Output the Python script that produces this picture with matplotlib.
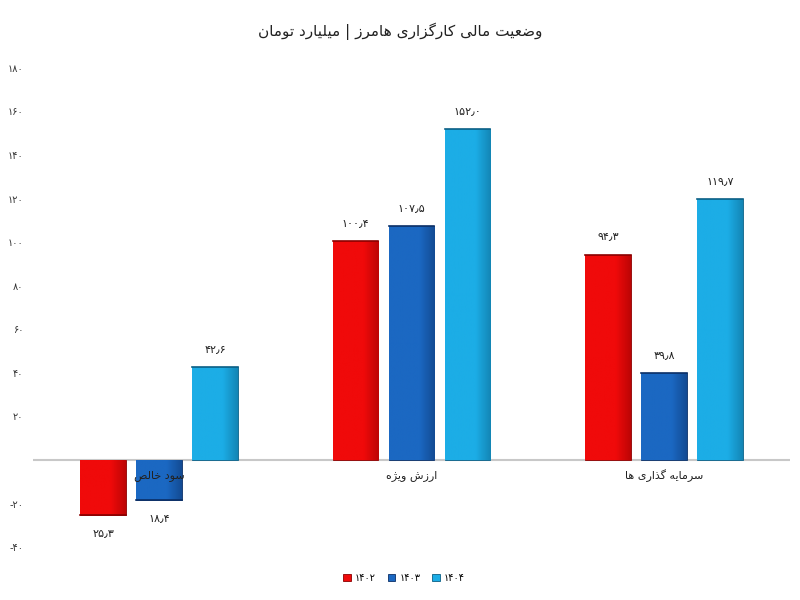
import numpy as np
import matplotlib
matplotlib.use('Agg')
import matplotlib.pyplot as plt
from matplotlib.colors import LinearSegmentedColormap

plt.rcParams['font.family'] = ['DejaVu Sans']

# داده ها
categories = ['سود خالص', 'ارزش ویژه', 'سرمایه گذاری ها']
years = ['۱۴۰۲', '۱۴۰۳', '۱۴۰۴']
values_1402 = [-25.3, 100.4, 94.3]
values_1403 = [-18.4, 107.5, 39.8]
values_1404 = [42.6, 152.0, 119.7]
yticks = [-40, -20, 0, 20, 40, 60, 80, 100, 120, 140, 160, 180]
title = 'وضعیت مالی کارگزاری هامرز | میلیارد تومان'

# شکل دادن حروف فارسی (matplotlib خودش اتصال و راست به چپ ندارد)
FORMS = {
    'ا': (0xFE8D, 0xFE8E, None, None), 'آ': (0xFE81, 0xFE82, None, None),
    'ب': (0xFE8F, 0xFE90, 0xFE91, 0xFE92), 'پ': (0xFB56, 0xFB57, 0xFB58, 0xFB59),
    'ت': (0xFE95, 0xFE96, 0xFE97, 0xFE98), 'ث': (0xFE99, 0xFE9A, 0xFE9B, 0xFE9C),
    'ج': (0xFE9D, 0xFE9E, 0xFE9F, 0xFEA0), 'چ': (0xFB7A, 0xFB7B, 0xFB7C, 0xFB7D),
    'ح': (0xFEA1, 0xFEA2, 0xFEA3, 0xFEA4), 'خ': (0xFEA5, 0xFEA6, 0xFEA7, 0xFEA8),
    'د': (0xFEA9, 0xFEAA, None, None), 'ذ': (0xFEAB, 0xFEAC, None, None),
    'ر': (0xFEAD, 0xFEAE, None, None), 'ز': (0xFEAF, 0xFEB0, None, None),
    'ژ': (0xFB8A, 0xFB8B, None, None),
    'س': (0xFEB1, 0xFEB2, 0xFEB3, 0xFEB4), 'ش': (0xFEB5, 0xFEB6, 0xFEB7, 0xFEB8),
    'ص': (0xFEB9, 0xFEBA, 0xFEBB, 0xFEBC), 'ض': (0xFEBD, 0xFEBE, 0xFEBF, 0xFEC0),
    'ط': (0xFEC1, 0xFEC2, 0xFEC3, 0xFEC4), 'ظ': (0xFEC5, 0xFEC6, 0xFEC7, 0xFEC8),
    'ع': (0xFEC9, 0xFECA, 0xFECB, 0xFECC), 'غ': (0xFECD, 0xFECE, 0xFECF, 0xFED0),
    'ف': (0xFED1, 0xFED2, 0xFED3, 0xFED4), 'ق': (0xFED5, 0xFED6, 0xFED7, 0xFED8),
    'ک': (0xFB8E, 0xFB8F, 0xFB90, 0xFB91), 'گ': (0xFB92, 0xFB93, 0xFB94, 0xFB95),
    'ل': (0xFEDD, 0xFEDE, 0xFEDF, 0xFEE0), 'م': (0xFEE1, 0xFEE2, 0xFEE3, 0xFEE4),
    'ن': (0xFEE5, 0xFEE6, 0xFEE7, 0xFEE8), 'ه': (0xFEE9, 0xFEEA, 0xFEEB, 0xFEEC),
    'و': (0xFEED, 0xFEEE, None, None), 'ی': (0xFBFC, 0xFBFD, 0xFBFE, 0xFBFF),
}


def fa(text):
    out = []
    n = len(text)
    for i, ch in enumerate(text):
        if ch not in FORMS:
            out.append(ch)
            continue
        prev = text[i - 1] if i > 0 else ''
        nxt = text[i + 1] if i < n - 1 else ''
        join_prev = prev in FORMS and FORMS[prev][2] is not None
        join_next = nxt in FORMS and FORMS[ch][2] is not None
        iso, fin, ini, med = FORMS[ch]
        if join_prev and join_next:
            out.append(chr(med))
        elif join_prev:
            out.append(chr(fin))
        elif join_next:
            out.append(chr(ini))
        else:
            out.append(chr(iso))
    return ''.join(out)[::-1]


def fa_num(v):
    s = ('%.1f' % abs(v)).replace('.', '٫')
    return s.translate(str.maketrans('0123456789', '۰۱۲۳۴۵۶۷۸۹'))


def fa_int(v):
    s = str(abs(v)).translate(str.maketrans('0123456789', '۰۱۲۳۴۵۶۷۸۹'))
    return s if v >= 0 else '-' + s


colors = ['#f00a0a', '#1b68c2', '#1cade6']
dark = ['#8a0000', '#0b2f66', '#0b5f85']

fig = plt.figure(figsize=(8, 6), dpi=100)
ax = fig.add_axes([0.041, 0.088, 0.947, 0.799])

x = np.arange(len(categories))
width = 0.18
offset = 0.222
series = [values_1402, values_1403, values_1404]

for k, vals in enumerate(series):
    bars = ax.bar(x + (k - 1) * offset, vals, width, color=colors[k],
                  edgecolor=dark[k], linewidth=0.6, label=years[k], zorder=2)
    cmap = LinearSegmentedColormap.from_list('g%d' % k, [colors[k], colors[k], dark[k]])
    for b, v in zip(bars, vals):
        x0, y0 = b.get_x(), b.get_y()
        w, h = b.get_width(), b.get_height()
        grad = np.linspace(0, 0.75, 100).reshape(1, -1)
        im = ax.imshow(grad, extent=[x0, x0 + w, y0, y0 + h], aspect='auto',
                       cmap=cmap, vmin=0, vmax=1, zorder=2.5)
        im.set_clip_path(b)
        top = y0 + h if v >= 0 else y0
        # خط تیره بالای ستون
        ax.plot([x0, x0 + w], [y0 + h, y0 + h], color=dark[k], lw=1.2, zorder=3)
        if v >= 0:
            ax.text(x0 + w / 2, top + 6, fa_num(v), ha='center', va='bottom',
                    fontsize=8, color='#222222')
        else:
            ax.text(x0 + w / 2, v - 6, fa_num(v), ha='center', va='top',
                    fontsize=8, color='#222222')

ax.axhline(0, color='#c8c8c8', lw=1.5, zorder=1)
for i, c in enumerate(categories):
    ax.text(x[i], -7, fa(c), ha='center', va='center', fontsize=8, color='#222222', zorder=4)

ax.set_xlim(-0.5, 2.5)
ax.set_ylim(-40, 180)
ax.set_yticks(yticks)
ax.set_yticklabels(['' if t == 0 else fa_int(t) for t in yticks], fontsize=7, color='#333333')
ax.set_xticks([])
ax.tick_params(axis='y', length=0, pad=7)
for s in ax.spines.values():
    s.set_visible(False)

fig.text(0.5, 0.948, fa(title), ha='center', va='center', fontsize=11, color='#222222')

handles, labels = ax.get_legend_handles_labels()
fig.legend(handles, labels, loc='center', bbox_to_anchor=(0.505, 0.037), ncol=3,
           frameon=False, fontsize=7, handlelength=0.8, handleheight=0.8,
           columnspacing=1.2, handletextpad=0.4)

fig.savefig('out.png', dpi=100)
